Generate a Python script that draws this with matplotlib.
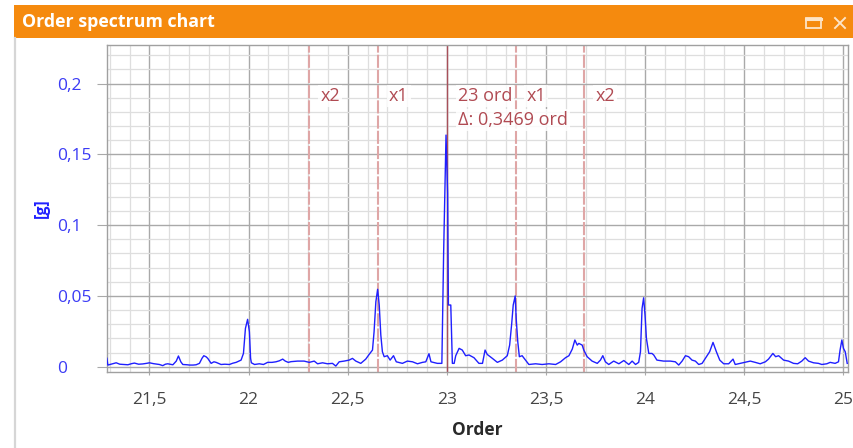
import matplotlib
matplotlib.use("Agg")
import matplotlib.pyplot as plt
from matplotlib.patches import Rectangle
from matplotlib.lines import Line2D
from matplotlib.ticker import MultipleLocator, FuncFormatter
import matplotlib.transforms as mtransforms

plt.rcParams['font.family'] = ['Open Sans', 'DejaVu Sans']

# Order spectrum (order, amplitude in g)
orders = [
    21.285, 21.290, 21.310, 21.332, 21.350, 21.370, 21.391, 21.410, 21.424, 21.445,
    21.466, 21.485, 21.500, 21.520, 21.550, 21.567, 21.580, 21.592, 21.618, 21.635,
    21.646, 21.658, 21.668, 21.690, 21.702, 21.720, 21.735, 21.752, 21.765, 21.774,
    21.786, 21.794, 21.811, 21.825, 21.836, 21.861, 21.880, 21.903, 21.920, 21.937,
    21.962, 21.974, 21.984, 21.995, 22.004, 22.010, 22.014, 22.030, 22.054, 22.075,
    22.096, 22.118, 22.138, 22.155, 22.172, 22.185, 22.200, 22.214, 22.247, 22.280,
    22.306, 22.331, 22.348, 22.373, 22.398, 22.423, 22.440, 22.457, 22.482, 22.507,
    22.524, 22.541, 22.566, 22.591, 22.608, 22.625, 22.633, 22.642, 22.651, 22.659,
    22.667, 22.675, 22.684, 22.700, 22.714, 22.731, 22.745, 22.776, 22.801, 22.827,
    22.852, 22.877, 22.894, 22.910, 22.920, 22.952, 22.975, 22.978, 22.984, 22.996,
    23.004, 23.008, 23.020, 23.028, 23.037, 23.045, 23.062, 23.078, 23.095, 23.112,
    23.137, 23.162, 23.180, 23.193, 23.204, 23.230, 23.255, 23.280, 23.305, 23.317,
    23.327, 23.335, 23.345, 23.350, 23.358, 23.366, 23.380, 23.397, 23.414, 23.448,
    23.481, 23.515, 23.549, 23.574, 23.599, 23.616, 23.633, 23.646, 23.658, 23.666,
    23.683, 23.691, 23.708, 23.733, 23.759, 23.775, 23.787, 23.800, 23.817, 23.842,
    23.868, 23.893, 23.918, 23.935, 23.952, 23.968, 23.977, 23.985, 23.993, 24.000,
    24.007, 24.019, 24.035, 24.044, 24.060, 24.094, 24.128, 24.153, 24.170, 24.187,
    24.204, 24.220, 24.237, 24.254, 24.271, 24.288, 24.304, 24.326, 24.343, 24.360,
    24.377, 24.397, 24.422, 24.444, 24.455, 24.481, 24.506, 24.531, 24.556, 24.581,
    24.607, 24.623, 24.645, 24.659, 24.674, 24.699, 24.724, 24.749, 24.770, 24.791,
    24.808, 24.825, 24.850, 24.875, 24.892, 24.917, 24.934, 24.959, 24.976, 24.984,
    24.993, 25.001, 25.010, 25.020,
]
amplitude_g = [
    0.0060, 0.0012, 0.0020, 0.0028, 0.0018, 0.0016, 0.0014, 0.0022, 0.0026, 0.0018,
    0.0020, 0.0024, 0.0028, 0.0022, 0.0016, 0.0008, 0.0018, 0.0021, 0.0014, 0.0040,
    0.0076, 0.0035, 0.0016, 0.0014, 0.0012, 0.0012, 0.0014, 0.0024, 0.0060, 0.0078,
    0.0070, 0.0059, 0.0024, 0.0035, 0.0031, 0.0016, 0.0018, 0.0016, 0.0025, 0.0031,
    0.0047, 0.0094, 0.0271, 0.0335, 0.0247, 0.0060, 0.0028, 0.0016, 0.0021, 0.0016,
    0.0031, 0.0031, 0.0035, 0.0042, 0.0054, 0.0040, 0.0031, 0.0036, 0.0040, 0.0040,
    0.0031, 0.0040, 0.0021, 0.0028, 0.0021, 0.0024, 0.0005, 0.0035, 0.0040, 0.0047,
    0.0059, 0.0040, 0.0024, 0.0054, 0.0087, 0.0118, 0.0247, 0.0459, 0.0547, 0.0436,
    0.0224, 0.0106, 0.0071, 0.0078, 0.0047, 0.0078, 0.0035, 0.0024, 0.0040, 0.0035,
    0.0021, 0.0031, 0.0035, 0.0092, 0.0035, 0.0024, 0.0024, 0.0280, 0.0810, 0.1636,
    0.1227, 0.0436, 0.0436, 0.0024, 0.0024, 0.0078, 0.0130, 0.0118, 0.0078, 0.0083,
    0.0064, 0.0024, 0.0024, 0.0118, 0.0087, 0.0059, 0.0031, 0.0047, 0.0078, 0.0153,
    0.0299, 0.0436, 0.0500, 0.0340, 0.0176, 0.0071, 0.0078, 0.0047, 0.0016, 0.0021,
    0.0016, 0.0021, 0.0016, 0.0035, 0.0064, 0.0078, 0.0125, 0.0189, 0.0153, 0.0165,
    0.0153, 0.0118, 0.0071, 0.0040, 0.0024, 0.0047, 0.0078, 0.0035, 0.0016, 0.0040,
    0.0021, 0.0044, 0.0016, 0.0040, 0.0016, 0.0031, 0.0106, 0.0412, 0.0487, 0.0365,
    0.0200, 0.0094, 0.0094, 0.0083, 0.0047, 0.0040, 0.0040, 0.0035, 0.0012, 0.0040,
    0.0078, 0.0071, 0.0047, 0.0040, 0.0016, 0.0024, 0.0059, 0.0106, 0.0172, 0.0106,
    0.0047, 0.0021, 0.0021, 0.0054, 0.0016, 0.0024, 0.0031, 0.0040, 0.0031, 0.0021,
    0.0035, 0.0054, 0.0094, 0.0071, 0.0078, 0.0047, 0.0040, 0.0024, 0.0021, 0.0040,
    0.0064, 0.0040, 0.0028, 0.0024, 0.0016, 0.0021, 0.0031, 0.0024, 0.0035, 0.0118,
    0.0189, 0.0130, 0.0106, 0.0024,
]

# Cursor and sideband markers
cursor_order = 23.0
delta_order = 0.3469
harmonic_steps = [-2, -1, 1, 2]
harmonic_labels = ["x2", "x1", "x1", "x2"]

x_ticks = [21.5, 22.0, 22.5, 23.0, 23.5, 24.0, 24.5, 25.0]
y_ticks = [0.0, 0.05, 0.10, 0.15, 0.20]

W, H = 854, 448
fig = plt.figure(figsize=(W / 100, H / 100), dpi=100)
fig.patch.set_facecolor("white")

# window frame: orange title bar, left border
fig.patches.append(Rectangle((14 / W, 1 - 38 / H), 1 - 14 / W, 33 / H,
                             transform=fig.transFigure, facecolor="#f58a0e",
                             edgecolor="none", zorder=0))
fig.lines.append(Line2D([14.5 / W, 14.5 / W], [0, 1 - 38 / H], transform=fig.transFigure,
                        color="#d6d6d6", lw=1.6))
fig.text(22 / W, 1 - 22 / H, "Order spectrum chart", color="white", fontsize=12.8,
         fontweight="bold", va="center", ha="left")
# maximize / close glyphs
fig.patches.append(Rectangle((806 / W, 1 - 28 / H), 15 / W, 10 / H, transform=fig.transFigure,
                             facecolor="none", edgecolor="#fde4c6", lw=1.3))
fig.lines.append(Line2D([806 / W, 821 / W], [1 - 19.5 / H, 1 - 19.5 / H],
                        transform=fig.transFigure, color="#fde4c6", lw=2.2))
fig.lines.append(Line2D([835 / W, 845 / W], [1 - 18 / H, 1 - 28 / H],
                        transform=fig.transFigure, color="#fde4c6", lw=1.4))
fig.lines.append(Line2D([835 / W, 845 / W], [1 - 28 / H, 1 - 18 / H],
                        transform=fig.transFigure, color="#fde4c6", lw=1.4))

ax = fig.add_axes([107 / W, 1 - 372 / H, (848 - 107) / W, (372 - 45) / H])
ax.set_xlim(21.2856, 25.024)
ax.set_ylim(-0.0037, 0.2272)

ax.xaxis.set_minor_locator(MultipleLocator(0.1))
ax.yaxis.set_minor_locator(MultipleLocator(0.01))
ax.set_xticks(x_ticks)
ax.set_yticks(y_ticks)

comma = FuncFormatter(lambda v, p: f"{v:g}".replace(".", ","))
ax.xaxis.set_major_formatter(comma)
ax.yaxis.set_major_formatter(comma)

ax.grid(which="major", color="#a9a9a9", lw=1.0)
ax.grid(which="minor", color="#dedede", lw=0.9)
ax.set_axisbelow(True)
for s in ax.spines.values():
    s.set_color("#a0a0a0")
    s.set_linewidth(1.0)

ax.tick_params(axis="y", which="major", length=7.2, color="#a9a9a9", pad=28.8,
               labelsize=12.5, labelcolor="#3b3bf5")
for lbl in ax.get_yticklabels():
    lbl.set_horizontalalignment("left")
ax.tick_params(axis="x", which="major", length=2.2, color="#a9a9a9", pad=12.5,
               labelsize=12.5, labelcolor="#454545")
ax.tick_params(which="minor", length=0)

ax.set_xlabel("Order", fontsize=12.5, fontweight="bold", color="#2a2a2a", labelpad=9)
ax.set_ylabel("[g]", fontsize=11.5, fontweight="bold", color="#2020ff")
ax.yaxis.set_label_coords((50 - 107) / (848 - 107), 0.5)

# spectrum
ax.plot(orders, amplitude_g, color="#1f1fff", lw=1.0, zorder=3)

# cursor and sideband lines
ax.axvline(cursor_order, color="#a8505a", lw=1.0, zorder=2)
blend = mtransforms.blended_transform_factory(ax.transData, ax.transAxes)
box = dict(facecolor="white", edgecolor="none", alpha=0.85, pad=1.5)
for k, lab in zip(harmonic_steps, harmonic_labels):
    xo = cursor_order + k * delta_order
    ax.axvline(xo, color="#dfa6a6", lw=1.5, dashes=(6.3, 1.0), zorder=2)
    ax.annotate(lab, xy=(xo, 0.844), xycoords=blend, xytext=(11, 0),
                textcoords="offset pixels", color="#b04a52", fontsize=13,
                va="center", ha="left", bbox=box, zorder=4)

ax.annotate(f"{cursor_order:g} ord", xy=(cursor_order, 0.844), xycoords=blend,
            xytext=(11, 0), textcoords="offset pixels", color="#b04a52",
            fontsize=13, va="center", ha="left", bbox=box, zorder=4)
ax.annotate("\u0394: " + f"{delta_order:.4f}".replace(".", ",") + " ord",
            xy=(cursor_order, 0.771), xycoords=blend, xytext=(11, 0),
            textcoords="offset pixels", color="#b04a52", fontsize=13,
            va="center", ha="left", bbox=box, zorder=4)

fig.savefig("out.png", dpi=100)
